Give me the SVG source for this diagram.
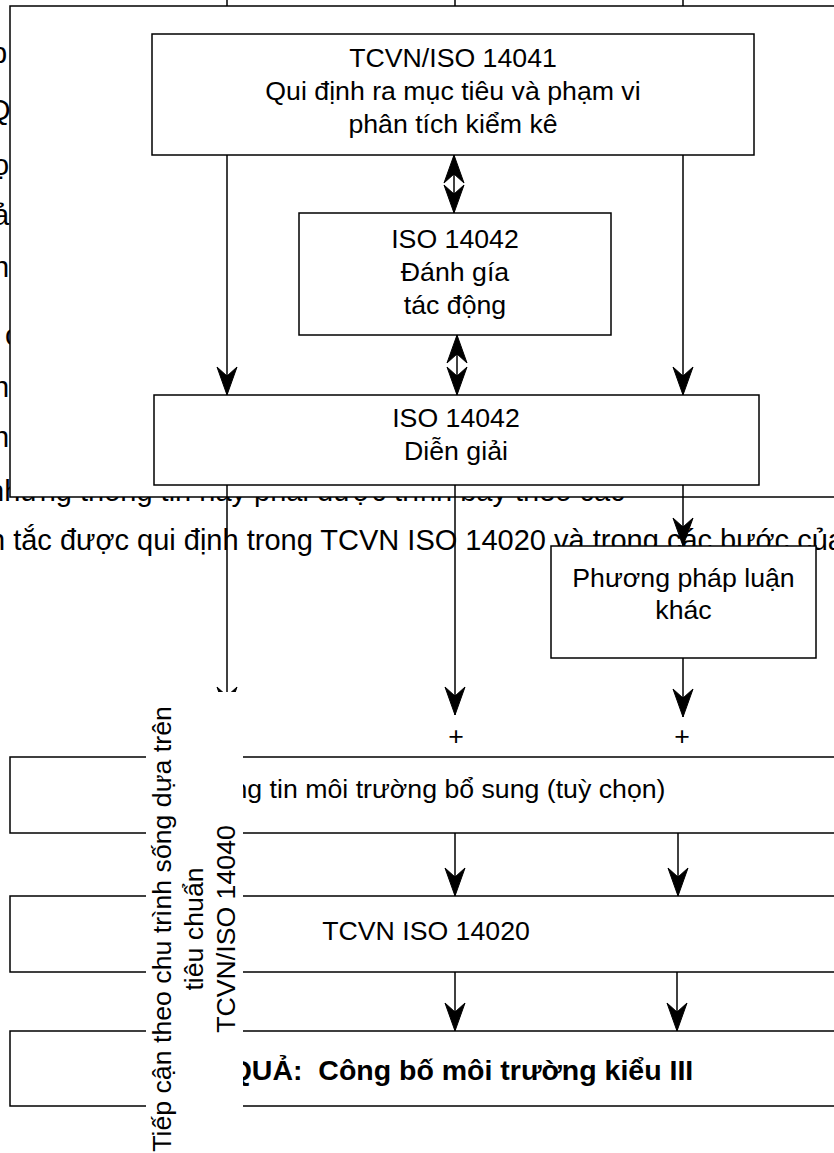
<svg xmlns="http://www.w3.org/2000/svg" width="834" height="1153" viewBox="0 0 834 1153">
<defs>
<style>
text{font-family:"Liberation Sans",Arial,sans-serif;fill:#000}
.t{font-size:26.7px;text-anchor:middle}
.bg{font-size:29px}
.b{font-size:28.5px;font-weight:bold;text-anchor:middle;white-space:pre}
.box{fill:#fff;stroke:#000;stroke-width:1.5}
.ln{fill:none;stroke:#000;stroke-width:1.5}
.arr{marker-end:url(#ah)}
.dbl{marker-start:url(#ah);marker-end:url(#ah)}
</style>
<marker id="ah" viewBox="-30 -12 32 24" refX="0" refY="0" markerWidth="32" markerHeight="24" markerUnits="userSpaceOnUse" orient="auto-start-reverse">
<path d="M0,0 L-28,-10 L-19,0 L-28,10 Z" fill="#000" stroke="#000" stroke-width="1"/>
</marker>
</defs>
<rect width="834" height="1153" fill="#fff"/>
<g id="background-text">
<text class="bg" x="-9" y="63">p</text>
<text class="bg" x="-12" y="120">Q</text>
<text class="bg" x="-7" y="175">ọ</text>
<text class="bg" x="-7" y="225">ả</text>
<text class="bg" x="-7" y="277">n</text>
<text class="bg" x="5" y="345">c</text>
<text class="bg" x="-7" y="397">n</text>
<text class="bg" x="-7" y="447">n</text>
<text class="bg" x="-12" y="501">nhưng thông tin này phải được trình bày theo các</text>
<text class="bg" x="-11" y="550">n tắc được qui định trong TCVN ISO 14020 và trong các bước của</text>
</g>
<g id="top-stubs">
<path class="ln" d="M227,0V6M455,0V6M683,0V6"/>
</g>
<g id="frame">
<rect class="box" x="10" y="6" width="900" height="491"/>
</g>
<g id="n-tcvn14041">
<rect class="box" x="152" y="34" width="602" height="121"/>
<text class="t" x="453" y="67">TCVN/ISO 14041</text>
<text class="t" x="453" y="100">Qui định ra mục tiêu và phạm vi</text>
<text class="t" x="453" y="133">phân tích kiểm kê</text>
</g>
<g id="n-danhgia">
<rect class="box" x="299" y="213" width="312" height="122"/>
<text class="t" x="455" y="248">ISO 14042</text>
<text class="t" x="455" y="281">Đánh gía</text>
<text class="t" x="455" y="314">tác động</text>
</g>
<g id="n-diengiai">
<rect class="box" x="154" y="395" width="605" height="90"/>
<text class="t" x="456" y="427">ISO 14042</text>
<text class="t" x="456" y="460">Diễn giải</text>
</g>
<g id="n-phuongphap">
<rect class="box" x="551" y="546" width="265" height="112"/>
<text class="t" x="683.5" y="587">Phương pháp luận</text>
<text class="t" x="683.5" y="619">khác</text>
</g>
<g id="n-thongtin">
<rect class="box" x="10" y="757" width="831" height="76"/>
<text class="t" x="426" y="798">Thông tin môi trường bổ sung (tuỳ chọn)</text>
</g>
<g id="n-tcvn14020">
<rect class="box" x="10" y="896" width="831" height="76"/>
<text class="t" x="426" y="940">TCVN ISO 14020</text>
</g>
<g id="n-ketqua">
<rect class="box" x="10" y="1031" width="831" height="75"/>
<text class="b" x="429" y="1080" xml:space="preserve">KẾT QUẢ:  Công bố môi trường kiểu III</text>
</g>
<g id="plus-signs">
<text class="t" x="456" y="745">+</text>
<text class="t" x="682" y="745">+</text>
</g>
<g id="connectors">
<path class="ln arr" d="M227,155V395"/>
<path class="ln arr" d="M683,155V395"/>
<path class="ln dbl" d="M454,155V213"/>
<path class="ln dbl" d="M457,335V395"/>
<path class="ln arr" d="M227,485V715"/>
<path class="ln arr" d="M455,485V715"/>
<path class="ln arr" d="M683,485V546"/>
<path class="ln arr" d="M683,658V717"/>
<path class="ln arr" d="M455,833V896"/>
<path class="ln arr" d="M678,833V896"/>
<path class="ln arr" d="M455,972V1031"/>
<path class="ln arr" d="M677,972V1031"/>
</g>
<g id="n-label">
<rect x="146" y="692" width="97" height="470" fill="#fff"/>
<text class="t" transform="translate(0,929) rotate(-90)"><tspan x="0" y="171">Tiếp cận theo chu trình sống dựa trên</tspan><tspan x="0" y="203">tiêu chuẩn</tspan><tspan x="0" y="235">TCVN/ISO 14040</tspan></text>
</g>
</svg>
